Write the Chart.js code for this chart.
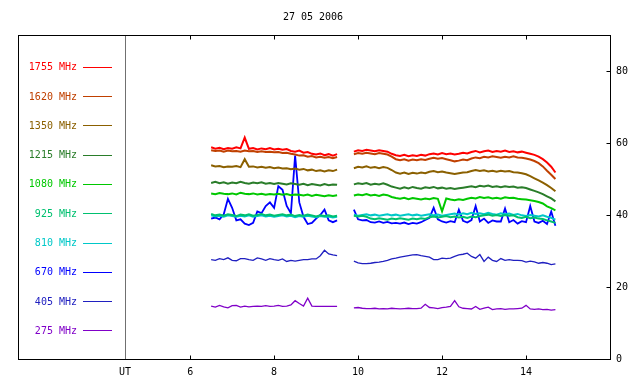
<!DOCTYPE html>
<html>
<head>
<meta charset="utf-8">
<script src="https://cdn.jsdelivr.net/npm/chart.js@4/dist/chart.umd.min.js"></script>
<style>
html,body{margin:0;padding:0;background:#fff;}
#wrap{width:640px;height:384px;}
</style>
</head>
<body>
<div id="wrap"><canvas id="c" width="640" height="384"></canvas></div>
<script>
// ---- data ----
const title = "27 05 2006";
const utLabel = "UT";
const xTicks = [6, 8, 10, 12, 14];
const utPos = 4.45;
const yTicks = [0, 20, 40, 60, 80];

const labels = ["1755 MHz","1620 MHz","1350 MHz","1215 MHz","1080 MHz","925 MHz","810 MHz","670 MHz","405 MHz","275 MHz"];
const colors = ["#ff0000","#c04000","#8b6000","#2a7d2a","#00c800","#00c070","#00c8c8","#0000ff","#2020c0","#8000c8"];

const times1 = [6.5,6.6,6.7,6.8,6.9,7.0,7.1,7.2,7.3,7.4,7.5,7.6,7.7,7.8,7.9,8.0,8.1,8.2,8.3,8.4,8.5,8.6,8.7,8.8,8.9,9.0,9.1,9.2,9.3,9.4,9.5];
const times2 = [9.9,10.0,10.1,10.2,10.3,10.4,10.5,10.6,10.7,10.8,10.9,11.0,11.1,11.2,11.3,11.4,11.5,11.6,11.7,11.8,11.9,12.0,12.1,12.2,12.3,12.4,12.5,12.6,12.7,12.8,12.9,13.0,13.1,13.2,13.3,13.4,13.5,13.6,13.7,13.8,13.9,14.0,14.1,14.2,14.3,14.4,14.5,14.6,14.7];

const f1755a = [58.8,58.4,58.7,58.3,58.6,58.4,58.8,58.5,61.5,58.4,58.6,58.2,58.5,58.3,58.6,58.2,58.4,58.1,58.3,57.8,57.6,57.9,57.3,57.5,57.0,56.8,57.1,56.6,56.9,56.5,56.9];
const f1755b = [57.6,58.0,57.8,58.1,57.9,57.7,58.0,57.8,57.6,57.0,56.6,56.4,56.7,56.3,56.6,56.4,56.7,56.5,56.9,57.1,56.8,57.2,56.9,57.1,56.8,57.0,57.3,57.1,57.5,57.8,57.4,57.7,57.9,57.5,57.8,57.6,57.9,57.5,57.7,57.4,57.6,57.3,57.0,56.7,56.2,55.5,54.6,53.4,51.8];

const f1620a = [58.0,57.8,57.9,57.6,57.9,57.7,57.8,57.6,57.9,57.7,57.8,57.5,57.7,57.5,57.6,57.4,57.5,57.2,57.3,57.0,56.8,56.5,56.6,56.2,56.4,56.0,56.2,55.9,56.1,55.8,56.1];
const f1620b = [56.9,57.2,57.0,57.3,57.1,56.9,57.2,57.0,56.8,56.2,55.5,55.2,55.5,55.1,55.4,55.2,55.5,55.3,55.6,55.9,55.6,55.8,55.5,55.2,54.9,55.1,55.4,55.2,55.7,56.0,55.8,56.2,56.0,56.3,56.1,55.9,56.2,56.0,56.3,56.0,55.9,55.7,55.4,55.0,54.4,53.5,52.3,51.2,50.0];

const f1350a = [53.8,53.5,53.6,53.3,53.5,53.4,53.6,53.3,55.5,53.4,53.5,53.2,53.4,53.1,53.3,53.0,53.2,52.9,53.0,52.7,52.9,52.6,52.8,52.4,52.6,52.2,52.4,52.1,52.4,52.2,52.6];
const f1350b = [53.0,53.4,53.2,53.5,53.1,53.3,53.0,53.3,53.1,52.5,51.8,51.5,51.8,51.4,51.7,51.5,51.8,51.6,52.0,52.2,51.9,52.1,51.8,51.6,51.4,51.6,51.8,51.9,52.2,52.5,52.2,52.4,52.1,52.3,52.0,52.3,52.1,52.2,51.9,51.8,51.6,51.3,50.8,50.2,49.6,49.0,48.3,47.5,46.6];

const f1215a = [48.9,49.2,48.8,49.1,48.7,49.0,48.8,49.2,48.9,48.7,49.0,48.8,49.1,48.7,48.9,48.6,48.9,48.7,48.5,48.8,48.6,48.4,48.7,48.3,48.6,48.4,48.2,48.6,48.3,48.5,48.4];
const f1215b = [48.5,48.8,48.6,48.9,48.4,48.7,48.5,48.8,48.4,47.9,47.6,47.3,47.7,47.4,47.8,47.5,47.3,47.7,47.5,47.8,47.4,47.6,47.3,47.5,47.2,47.4,47.6,47.8,48.0,47.7,48.1,47.9,48.2,47.8,48.0,47.7,48.0,47.8,47.9,47.6,47.7,47.5,47.1,46.7,46.3,45.8,45.2,44.6,43.8];

const f1080a = [46.0,45.8,46.1,45.9,45.8,46.0,45.7,46.2,45.9,45.8,46.0,45.7,45.9,45.6,45.8,45.7,45.9,45.6,45.8,45.5,45.7,45.6,45.4,45.7,45.3,45.6,45.4,45.2,45.5,45.3,45.5];
const f1080b = [45.4,45.7,45.5,45.8,45.4,45.6,45.3,45.7,45.5,45.0,44.7,44.5,44.8,44.4,44.7,44.5,44.3,44.6,44.4,44.7,44.5,41.0,44.6,44.3,44.1,44.4,44.2,44.5,44.8,44.6,45.0,44.7,44.9,44.6,44.8,44.5,44.9,44.7,44.8,44.5,44.4,44.3,44.1,43.9,43.6,43.2,42.4,41.9,41.3];

const f925a = [40.3,39.9,40.1,39.8,40.2,40.0,39.7,40.1,39.9,40.2,39.8,40.0,40.3,39.9,40.1,39.8,40.0,40.2,39.9,40.1,39.7,40.0,39.8,40.1,39.9,39.6,39.9,39.7,39.9,39.6,39.8];
const f925b = [39.8,39.6,39.8,39.5,39.0,38.8,39.1,38.9,38.7,39.0,38.8,39.1,38.9,38.7,39.0,38.8,39.1,38.9,39.4,39.6,39.3,39.5,39.7,39.4,39.6,39.3,39.5,39.2,39.6,39.4,39.7,39.9,40.1,39.8,40.0,39.7,40.0,39.8,39.9,39.4,39.2,39.5,39.1,39.3,39.0,38.9,38.5,38.2,37.8];

const f810a = [39.9,39.6,39.8,39.5,39.9,39.7,39.5,39.8,39.6,39.9,39.5,39.7,39.9,39.6,39.8,39.5,39.7,39.9,39.6,39.8,39.4,39.7,39.5,39.8,39.6,39.4,39.7,39.5,39.6,39.3,39.5];
const f810b = [40.1,39.8,40.0,40.2,39.9,40.1,39.8,40.0,40.2,39.9,40.1,39.8,40.0,40.2,39.9,40.1,39.8,40.0,40.2,39.9,40.1,39.8,40.0,40.2,40.4,40.1,40.5,40.2,40.6,40.3,40.5,40.2,40.6,40.3,40.1,40.5,40.2,40.4,40.0,40.3,39.9,39.7,40.0,39.8,39.6,39.9,39.5,39.2,38.7];

const f670a = [39.0,39.3,38.8,40.2,44.5,42.0,38.5,38.8,37.6,37.2,37.8,41.0,40.5,42.5,43.5,42.0,48.0,47.0,42.5,40.5,56.5,43.5,39.5,37.5,37.8,39.0,40.0,41.5,38.5,38.0,38.5];
const f670b = [41.5,38.8,38.5,38.6,38.0,37.9,38.2,37.8,38.1,37.7,37.8,37.6,37.9,37.5,37.8,37.6,38.0,38.6,39.2,42.0,38.8,38.2,37.9,38.3,38.0,41.5,38.4,37.9,38.6,42.5,38.2,39.0,37.8,38.5,38.2,38.2,41.8,38.0,38.6,37.6,38.3,38.0,42.5,38.2,37.8,38.4,37.5,41.0,37.0];

const f405a = [27.6,27.4,27.9,27.6,28.1,27.4,27.3,27.9,27.9,27.6,27.4,28.1,27.8,27.4,27.9,27.6,27.4,27.8,27.1,27.4,27.2,27.4,27.6,27.6,27.8,27.8,28.7,30.2,29.2,28.9,28.7];
const f405b = [27.2,26.7,26.5,26.5,26.6,26.8,26.9,27.1,27.4,27.8,28.0,28.3,28.5,28.7,28.9,29.0,28.7,28.5,28.3,27.6,27.6,28.0,27.9,28.0,28.5,28.9,29.1,29.4,28.5,28.0,29.0,27.1,28.3,27.4,27.1,27.9,27.4,27.6,27.4,27.4,27.3,26.9,27.2,27.0,26.6,26.8,26.6,26.2,26.4];

const f275a = [14.7,14.4,14.9,14.5,14.2,14.8,14.9,14.4,14.7,14.5,14.6,14.7,14.6,14.8,14.6,14.7,14.9,14.6,14.7,15.0,16.2,15.4,14.7,16.9,14.7,14.6,14.6,14.6,14.6,14.6,14.6];
const f275b = [14.2,14.3,14.1,14.0,14.0,14.1,13.9,14.0,13.9,14.1,14.0,13.9,14.0,14.1,14.0,14.0,14.1,15.2,14.3,14.2,14.0,14.3,14.4,14.6,16.2,14.5,14.1,14.0,13.9,14.6,13.8,14.1,14.4,13.7,13.9,14.0,13.8,13.9,13.9,14.0,14.1,14.9,13.9,13.8,13.9,13.7,13.8,13.6,13.7];

const seriesA = [f1755a,f1620a,f1350a,f1215a,f1080a,f925a,f810a,f670a,f405a,f275a];
const seriesB = [f1755b,f1620b,f1350b,f1215b,f1080b,f925b,f810b,f670b,f405b,f275b];
const widths = [2,2,2,2,2,2,2,1.8,1.3,1.3];

// ---- build datasets ----
const gapTime = 9.7;
const datasets = labels.map((lab, i) => {
  const pts = [];
  times1.forEach((t, k) => pts.push({x: t, y: seriesA[i][k]}));
  pts.push({x: gapTime, y: null});
  times2.forEach((t, k) => pts.push({x: t, y: seriesB[i][k]}));
  return {
    label: lab,
    data: pts,
    borderColor: colors[i],
    backgroundColor: colors[i],
    borderWidth: widths[i],
    pointRadius: 0,
    tension: 0,
    spanGaps: false,
    fill: false
  };
});

const FONT = "'DejaVu Sans Mono', monospace";

const decor = {
  id: 'decor',
  beforeDatasetsDraw(chart) {
    const ctx = chart.ctx, a = chart.chartArea;
    const xs = chart.scales.x;
    ctx.save();
    ctx.strokeStyle = '#707070';
    ctx.lineWidth = 1;
    const ux = Math.round(xs.getPixelForValue(utPos)) + 0.5;
    ctx.beginPath(); ctx.moveTo(ux, a.top); ctx.lineTo(ux, a.bottom); ctx.stroke();
    ctx.restore();
  },
  afterDraw(chart) {
    const ctx = chart.ctx, a = chart.chartArea;
    const xs = chart.scales.x, ys = chart.scales.y;
    ctx.save();
    // frame
    ctx.strokeStyle = '#000';
    ctx.lineWidth = 1;
    const L = Math.round(a.left) + 0.5, T = Math.round(a.top) + 0.5;
    const R = Math.round(a.right) + 0.5, B = Math.round(a.bottom) + 0.5;
    ctx.strokeRect(L, T, R - L, B - T);
    // ticks
    ctx.beginPath();
    xTicks.forEach(v => {
      const px = Math.round(xs.getPixelForValue(v)) + 0.5;
      ctx.moveTo(px, B); ctx.lineTo(px, B - 4);
      ctx.moveTo(px, T); ctx.lineTo(px, T + 4);
    });
    yTicks.forEach(v => {
      const py = Math.round(ys.getPixelForValue(v)) + 0.5;
      ctx.moveTo(R, py); ctx.lineTo(R - 4, py);
    });
    ctx.stroke();
    // title
    ctx.fillStyle = '#000';
    ctx.font = '10px ' + FONT;
    ctx.textAlign = 'center';
    ctx.textBaseline = 'middle';
    ctx.fillText(title, 313, 17);
    // legend
    ctx.textAlign = 'right';
    labels.forEach((lab, i) => {
      const y = a.top + 31.7 + i * 29.3;
      ctx.fillStyle = colors[i];
      ctx.fillText(lab, 77, y + 1);
      ctx.strokeStyle = colors[i];
      ctx.lineWidth = 1;
      ctx.beginPath();
      ctx.moveTo(83, Math.round(y) + 0.5); ctx.lineTo(112, Math.round(y) + 0.5);
      ctx.stroke();
    });
    ctx.restore();
  }
};

new Chart(document.getElementById('c'), {
  type: 'line',
  data: { datasets },
  options: {
    responsive: false,
    animation: false,
    events: [],
    layout: { padding: { left: 18, right: 0, top: 35, bottom: 0 } },
    plugins: { legend: { display: false }, title: { display: false }, tooltip: { enabled: false } },
    scales: {
      x: {
        type: 'linear',
        min: 1.9, max: 16,
        grid: { display: false, drawTicks: false },
        border: { display: false },
        afterBuildTicks: s => { s.ticks = [utPos].concat(xTicks).map(v => ({ value: v })); },
        afterFit: s => { s.height = 25; },
        ticks: {
          color: '#000',
          padding: 7,
          maxRotation: 0,
          autoSkip: false,
          font: { family: FONT, size: 10 },
          callback: v => (v === utPos ? utLabel : String(v))
        }
      },
      y: {
        position: 'right',
        min: 0, max: 90,
        grid: { display: false, drawTicks: false },
        border: { display: false },
        afterBuildTicks: s => { s.ticks = yTicks.map(v => ({ value: v })); },
        afterFit: s => { s.width = 30; },
        ticks: {
          color: '#000',
          padding: 6,
          font: { family: FONT, size: 10 },
          callback: v => String(v)
        }
      }
    }
  },
  plugins: [decor]
});
</script>
</body>
</html>
